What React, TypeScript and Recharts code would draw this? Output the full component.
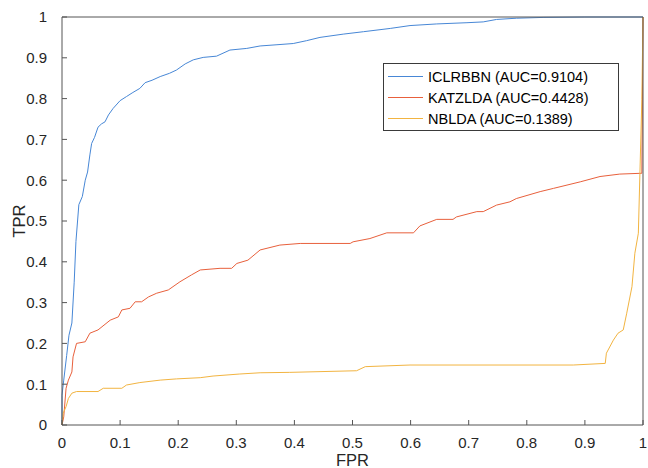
import { CartesianGrid, Legend, Line, LineChart, XAxis, YAxis } from "recharts";

// ROC points (FPR, TPR)
const iclrbbnFpr = [0, 0, 0.003, 0.008, 0.012, 0.017, 0.021, 0.024, 0.029, 0.035, 0.04, 0.044, 0.048, 0.051, 0.056, 0.062, 0.068, 0.074, 0.08, 0.088, 0.1, 0.111, 0.122, 0.134, 0.143, 0.155, 0.169, 0.185, 0.197, 0.212, 0.226, 0.243, 0.266, 0.289, 0.318, 0.341, 0.37, 0.398, 0.421, 0.444, 0.484, 0.519, 0.565, 0.599, 0.645, 0.697, 0.725, 0.748, 0.782, 0.828, 0.9, 1.0];
const iclrbbnTpr = [0, 0.073, 0.11, 0.17, 0.22, 0.25, 0.35, 0.45, 0.54, 0.56, 0.6, 0.62, 0.662, 0.69, 0.705, 0.73, 0.738, 0.743, 0.76, 0.776, 0.795, 0.805, 0.815, 0.825, 0.839, 0.845, 0.854, 0.862, 0.87, 0.885, 0.895, 0.901, 0.904, 0.919, 0.923, 0.929, 0.932, 0.935, 0.942, 0.95, 0.958, 0.964, 0.972, 0.979, 0.983, 0.986, 0.988, 0.994, 0.997, 0.999, 1.0, 1.0];

const katzFpr = [0, 0.003, 0.007, 0.011, 0.017, 0.019, 0.025, 0.04, 0.048, 0.062, 0.083, 0.097, 0.103, 0.117, 0.126, 0.137, 0.149, 0.163, 0.183, 0.203, 0.223, 0.238, 0.272, 0.292, 0.301, 0.32, 0.341, 0.375, 0.41, 0.496, 0.501, 0.53, 0.559, 0.605, 0.616, 0.645, 0.673, 0.679, 0.714, 0.725, 0.748, 0.771, 0.782, 0.823, 0.846, 0.892, 0.926, 0.96, 0.998, 1.0];
const katzTpr = [0, 0.02, 0.09, 0.11, 0.13, 0.167, 0.2, 0.204, 0.225, 0.233, 0.257, 0.265, 0.282, 0.286, 0.302, 0.302, 0.314, 0.323, 0.331, 0.351, 0.368, 0.38, 0.384, 0.384, 0.396, 0.404, 0.429, 0.441, 0.445, 0.445, 0.449, 0.457, 0.471, 0.471, 0.488, 0.504, 0.504, 0.51, 0.523, 0.523, 0.539, 0.547, 0.555, 0.572, 0.58, 0.596, 0.609, 0.615, 0.617, 1.0];

const nbFpr = [0, 0.002, 0.007, 0.011, 0.017, 0.025, 0.062, 0.071, 0.103, 0.111, 0.134, 0.169, 0.197, 0.238, 0.26, 0.306, 0.341, 0.392, 0.507, 0.522, 0.599, 0.88, 0.935, 0.937, 0.949, 0.957, 0.966, 0.972, 0.981, 0.986, 0.992, 0.998, 1.0];
const nbTpr = [0, 0.029, 0.045, 0.065, 0.078, 0.082, 0.082, 0.09, 0.09, 0.098, 0.104, 0.11, 0.113, 0.116, 0.12, 0.125, 0.128, 0.129, 0.133, 0.143, 0.147, 0.147, 0.151, 0.176, 0.208, 0.225, 0.233, 0.274, 0.339, 0.421, 0.47, 0.797, 1.0];

const ticks = [0, 0.1, 0.2, 0.3, 0.4, 0.5, 0.6, 0.7, 0.8, 0.9, 1];

const toPoints = (fpr: number[], tpr: number[]) => fpr.map((x, i) => ({ fpr: x, tpr: tpr[i] }));

const series = [
  { name: "ICLRBBN (AUC=0.9104)", color: "#4787d6", data: toPoints(iclrbbnFpr, iclrbbnTpr) },
  { name: "KATZLDA (AUC=0.4428)", color: "#e8603c", data: toPoints(katzFpr, katzTpr) },
  { name: "NBLDA (AUC=0.1389)", color: "#f2b441", data: toPoints(nbFpr, nbTpr) },
];

const font = "'Liberation Sans', Arial, sans-serif";
const axisColor = "#555555";
const tickStyle = { fill: "#262626", fontSize: 15, fontFamily: font };

const LegendBox = ({ payload }: any) => (
  <div
    style={{
      width: 230,
      height: 64,
      border: "1px solid #3a3a3a",
      background: "#fff",
      padding: "2px 0 0 4px",
      boxSizing: "content-box",
      fontFamily: font,
      fontSize: 14.5,
      color: "#000",
    }}>
    {(payload || []).map((p: any) => (
      <div key={p.value} style={{ display: "flex", alignItems: "center", height: 21 }}>
        <span style={{ display: "inline-block", width: 35, height: 1, background: p.color, marginRight: 5 }} />
        <span>{p.value}</span>
      </div>
    ))}
  </div>
);

export default function App() {
  return (
    <div style={{ position: "absolute", left: 0, top: 0, width: 648, height: 468, background: "#fff" }}>
      <LineChart width={648} height={468} margin={{ top: 16, right: 4, bottom: 0, left: 12 }}>
        <CartesianGrid stroke="none" xAxisId="b" yAxisId="l" />
        <XAxis
          xAxisId="b"
          dataKey="fpr"
          type="number"
          domain={[0, 1]}
          ticks={ticks}
          allowDuplicatedCategory={false}
          height={43}
          stroke={axisColor}
          tickSize={-5}
          tickMargin={17}
          tick={tickStyle}
          label={{ value: "FPR", position: "insideBottom", offset: 2, fill: "#262626", fontSize: 16.5, fontFamily: font }}
        />
        <XAxis
          xAxisId="t"
          orientation="top"
          type="number"
          domain={[0, 1]}
          ticks={ticks}
          height={1}
          stroke={axisColor}
          tickSize={-5}
          tick={false}
        />
        <YAxis
          yAxisId="l"
          type="number"
          domain={[0, 1]}
          ticks={ticks}
          width={50}
          stroke={axisColor}
          tickSize={-5}
          tickMargin={20}
          tick={tickStyle}
          label={{ value: "TPR", angle: -90, position: "insideLeft", offset: 7, fill: "#262626", fontSize: 16.5, fontFamily: font, style: { textAnchor: "middle" } }}
        />
        <YAxis
          yAxisId="r"
          orientation="right"
          type="number"
          domain={[0, 1]}
          ticks={ticks}
          width={1}
          stroke={axisColor}
          tickSize={-5}
          tick={false}
        />
        {series.map((s) => (
          <Line
            key={s.name}
            xAxisId="b"
            yAxisId="l"
            data={s.data}
            dataKey="tpr"
            name={s.name}
            type="linear"
            stroke={s.color}
            strokeWidth={1}
            dot={false}
            activeDot={false}
            isAnimationActive={false}
          />
        ))}
        <Legend
          layout="vertical"
          align="center"
          verticalAlign="middle"
          content={<LegendBox />}
          wrapperStyle={{ position: "absolute", left: 383, top: 63, width: "auto" }}
        />
      </LineChart>
    </div>
  );
}
